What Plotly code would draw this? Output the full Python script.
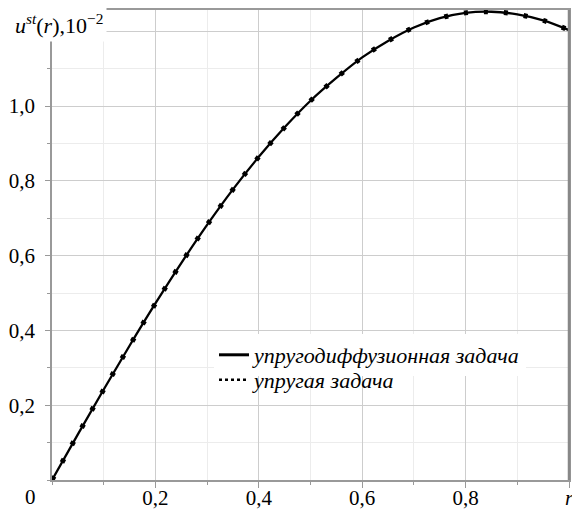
import plotly.graph_objects as go

# Data
r_vals = [0.0, 0.05, 0.10, 0.15, 0.20, 0.25, 0.30, 0.35, 0.40, 0.45, 0.50,
          0.55, 0.60, 0.65, 0.70, 0.75, 0.80, 0.85, 0.90, 0.95, 1.00]
u_diffusion = [0.0, 0.122, 0.242, 0.359, 0.472, 0.580, 0.682, 0.777, 0.864, 0.943, 1.014,
               1.075, 1.130, 1.174, 1.210, 1.235, 1.249, 1.252, 1.245, 1.229, 1.203]
u_elastic = [0.0, 0.122, 0.242, 0.359, 0.472, 0.580, 0.682, 0.777, 0.864, 0.943, 1.014,
             1.075, 1.130, 1.174, 1.210, 1.235, 1.249, 1.252, 1.245, 1.229, 1.203]

x_ticks = [0.2, 0.4, 0.6, 0.8, 1.0]
x_ticktext = ["0,2", "0,4", "0,6", "0,8", "<i>r</i>"]
y_ticks = [0.2, 0.4, 0.6, 0.8, 1.0, 1.2]
y_ticktext = ["0,2", "0,4", "0,6", "0,8", "1,0", ""]

name_diff = "<i>упругодиффузионная задача</i>"
name_el = "<i>упругая задача</i>"

FONT = "Liberation Serif, DejaVu Serif, Noto Serif, Times New Roman, Times, serif"

# page body has an 8px margin: compensate so the plot area sits where the reference has it
OFF = 8
W, H = 580 - OFF, 512 - OFF
PL, PT, PR, PB = 52, 10, 569, 480   # plot-area edges in window pixels


def px_x(px):
    return (px - PL) / (PR - PL)


def px_y(py):
    return (PB - py) / (PB - PT)


fig = go.Figure()
fig.add_trace(go.Scatter(x=r_vals, y=u_diffusion, mode="lines", line_shape="spline",
                         line=dict(color="black", width=2.3), showlegend=False))
fig.add_trace(go.Scatter(x=r_vals, y=u_elastic, mode="lines", line_shape="spline",
                         line=dict(color="black", width=5, dash="4px,16px"), showlegend=False))
# legend entries
fig.add_trace(go.Scatter(x=[None], y=[None], mode="lines", name=name_diff, legend="legend",
                         line=dict(color="black", width=3)))
fig.add_trace(go.Scatter(x=[None], y=[None], mode="lines", name=name_el, legend="legend2",
                         line=dict(color="black", width=2.5, dash="dot")))

grid_major = "#cdcdcd"
grid_minor = "#ececec"
axis_col = "#999999"

leg_font = dict(family=FONT, size=22, color="black")

fig.update_layout(
    width=W, height=H,
    margin=dict(l=PL - OFF, r=580 - PR, t=PT - OFF, b=512 - PB, autoexpand=False),
    paper_bgcolor="white", plot_bgcolor="white",
    font=dict(family=FONT, size=20, color="black"),
    legend=dict(x=px_x(214), y=px_y(334), xanchor="left", yanchor="top",
                bgcolor="white", borderwidth=0, font=leg_font),
    legend2=dict(x=px_x(214), y=px_y(359), xanchor="left", yanchor="top",
                 bgcolor="rgba(255,255,255,0)", borderwidth=0, font=leg_font),
    xaxis=dict(range=[0, 1.0], tickvals=x_ticks, ticktext=x_ticktext, automargin=False,
               showline=True, linecolor=axis_col, linewidth=1.5, mirror=True,
               ticks="outside", ticklen=6, tickcolor=axis_col, tickwidth=1.2,
               showgrid=True, gridcolor=grid_major, gridwidth=1, zeroline=False,
               ticklabelstandoff=-8, tickfont=dict(family=FONT, size=21),
               minor=dict(dtick=0.1, tick0=0, ticks="outside", ticklen=3,
                          tickcolor=axis_col, showgrid=True, gridcolor=grid_minor)),
    yaxis=dict(range=[0, 470 / 374], tickvals=y_ticks, ticktext=y_ticktext, automargin=False,
               showline=True, linecolor=axis_col, linewidth=1.5, mirror=True,
               ticks="outside", ticklen=5, tickcolor=axis_col, tickwidth=1.2,
               showgrid=True, gridcolor=grid_major, gridwidth=1, zeroline=False,
               ticklabelstandoff=6, tickfont=dict(family=FONT, size=21),
               minor=dict(dtick=0.1, tick0=0, ticks="outside", ticklen=3,
                          tickcolor=axis_col, showgrid=True, gridcolor=grid_minor)),
    shapes=[dict(type="line", xref="paper", yref="paper", x0=1, x1=1, y0=0, y1=1,
                 line=dict(color="#888888", width=2.5))],
    annotations=[
        dict(text="<i>u</i><sup><i>st</i></sup>(<i>r</i>),10<sup>−2</sup>",
             xref="paper", yref="paper", x=px_x(11), y=px_y(24),
             xanchor="left", yanchor="middle", showarrow=False,
             bgcolor="white", borderpad=3,
             font=dict(family=FONT, size=22, color="black")),
        dict(text="0", xref="paper", yref="paper", x=px_x(30), y=px_y(497),
             xanchor="center", yanchor="middle", showarrow=False,
             font=dict(family=FONT, size=21, color="black")),
    ],
)

fig.write_html("out.html")
